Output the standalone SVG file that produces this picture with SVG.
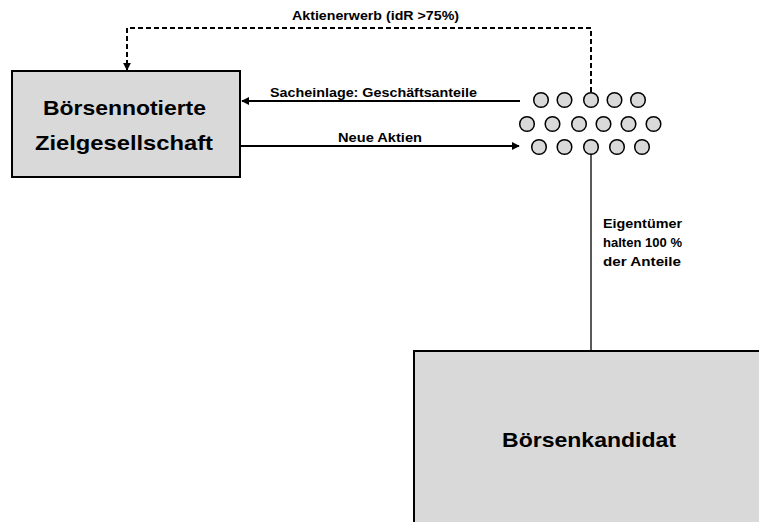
<svg xmlns="http://www.w3.org/2000/svg" width="759" height="522" viewBox="0 0 759 522">
<style>
text{font-family:"Liberation Sans",Arial,sans-serif;font-weight:bold;fill:#000}
.lbl{font-size:13.5px}
.big{font-size:21px}
.own{font-size:13.5px}
.box{fill:#d9d9d9;stroke:#000;stroke-width:2}
.c{fill:#d9d9d9;stroke:#000;stroke-width:1.5}
.ln{fill:none;stroke:#000;stroke-width:2}
</style>
<defs>
<marker id="ah" viewBox="0 0 10 10" refX="9" refY="5" markerWidth="4" markerHeight="4" orient="auto">
<path d="M0,0L10,5L0,10z" fill="#000"/>
</marker>
</defs>
<g id="connectors">
<path class="ln" d="M591,92V28H127V70" stroke-dasharray="5,3" marker-end="url(#ah)"/>
<path class="ln" d="M520,101H242" marker-end="url(#ah)"/>
<path class="ln" d="M241,146H519" marker-end="url(#ah)"/>
<path d="M591,154V352" fill="none" stroke="#000" stroke-width="1.3"/>
<text class="lbl" x="292" y="20" textLength="167" lengthAdjust="spacingAndGlyphs">Aktienerwerb (idR &gt;75%)</text>
<text class="lbl" x="270" y="97" textLength="207" lengthAdjust="spacingAndGlyphs">Sacheinlage: Geschäftsanteile</text>
<text class="lbl" x="338" y="142" textLength="84" lengthAdjust="spacingAndGlyphs">Neue Aktien</text>
<text class="own" x="603" y="228" textLength="79" lengthAdjust="spacingAndGlyphs">Eigentümer</text>
<text class="own" x="603" y="247" textLength="79" lengthAdjust="spacingAndGlyphs">halten 100 %</text>
<text class="own" x="603" y="266" textLength="78" lengthAdjust="spacingAndGlyphs">der Anteile</text>
</g>
<g id="zielgesellschaft">
<rect class="box" x="12" y="71" width="228" height="106"/>
<text class="big" x="43" y="115" textLength="163" lengthAdjust="spacingAndGlyphs">Börsennotierte</text>
<text class="big" x="35" y="150" textLength="178" lengthAdjust="spacingAndGlyphs">Zielgesellschaft</text>
</g>
<g id="aktionaere">
<circle class="c" cx="541" cy="100" r="7.3"/>
<circle class="c" cx="564.5" cy="100" r="7.3"/>
<circle class="c" cx="591" cy="100" r="7.3"/>
<circle class="c" cx="614.5" cy="100" r="7.3"/>
<circle class="c" cx="638" cy="100" r="7.3"/>
<circle class="c" cx="527" cy="124" r="7.3"/>
<circle class="c" cx="552.5" cy="124" r="7.3"/>
<circle class="c" cx="579" cy="124" r="7.3"/>
<circle class="c" cx="603.5" cy="124" r="7.3"/>
<circle class="c" cx="628.5" cy="124" r="7.3"/>
<circle class="c" cx="653.5" cy="124" r="7.3"/>
<circle class="c" cx="539" cy="147" r="7.3"/>
<circle class="c" cx="564.5" cy="147" r="7.3"/>
<circle class="c" cx="591" cy="147" r="7.3"/>
<circle class="c" cx="617" cy="147" r="7.3"/>
<circle class="c" cx="642" cy="147" r="7.3"/>
</g>
<g id="boersenkandidat">
<rect class="box" x="414" y="351" width="360" height="190"/>
<text class="big" x="502" y="447" textLength="174" lengthAdjust="spacingAndGlyphs">Börsenkandidat</text>
</g>
</svg>
